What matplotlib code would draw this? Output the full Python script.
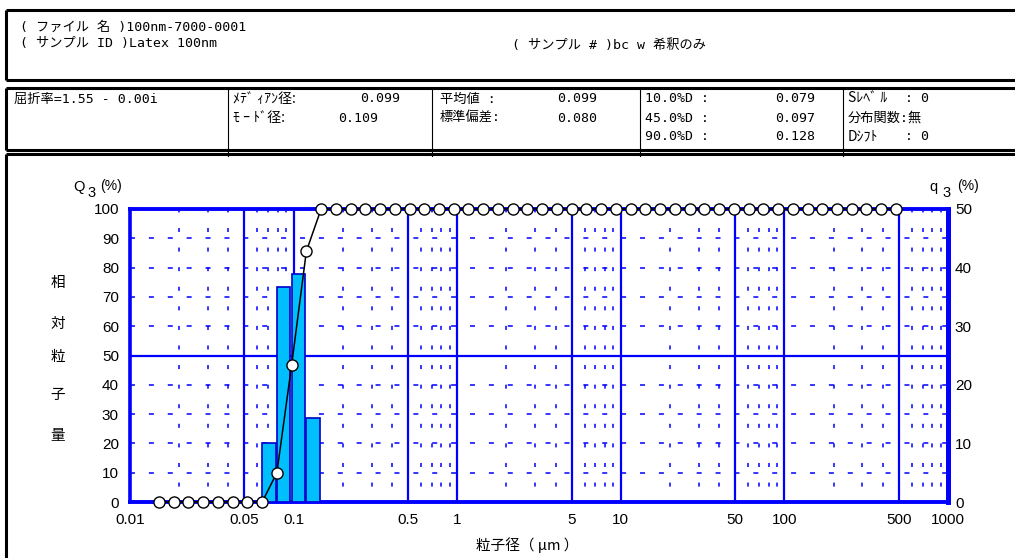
import matplotlib
matplotlib.use('Agg')
import matplotlib.pyplot as plt

plt.rcParams['lines.scale_dashes'] = False
JP = ['Noto Sans CJK JP', 'DejaVu Sans']
HD = ['DejaVu Sans Mono', 'Noto Sans CJK JP']
NUM = ['Liberation Sans', 'DejaVu Sans']

# particle size channels (um), undersize boundaries
sizes = [0.01503, 0.01850, 0.02276, 0.02802, 0.03447, 0.04242, 0.05220, 0.06423,
         0.07904, 0.09725, 0.1197, 0.1473, 0.1813, 0.2230, 0.2745, 0.3377,
         0.4156, 0.5113, 0.6292, 0.7742, 0.9528, 1.172, 1.443, 1.775,
         2.184, 2.688, 3.307, 4.070, 5.008, 6.163, 7.586, 9.334,
         11.49, 14.14, 17.39, 21.41, 26.34, 32.41, 39.89, 49.09,
         60.39, 74.32, 91.47, 112.5, 138.5, 170.4, 209.7, 258.0,
         317.5, 390.7, 480.8]
# cumulative undersize Q3 (%)
Q3 = [0, 0, 0, 0, 0, 0, 0, 0, 10.0, 46.7, 85.6] + [100.0] * 40
# frequency q3 (%) per channel
q3 = [0, 0, 0, 0, 0, 0, 0, 10.0, 36.7, 38.9, 14.4] + [0] * 39

x_major = [0.05, 0.1, 0.5, 1, 5, 10, 50, 100, 500]
x_minor = [m * d for d in [0.01, 0.1, 1, 10, 100] for m in [2, 3, 4, 6, 7, 8, 9]]
x_ticks = [0.01, 0.05, 0.1, 0.5, 1, 5, 10, 50, 100, 500, 1000]
x_ticklabels = ['0.01', '0.05', '0.1', '0.5', '1', '5', '10', '50', '100', '500', '1000']

W, H = 1015, 558
fig = plt.figure(figsize=(W / 100, H / 100), dpi=100)

# ---- frame boxes and header text (pixel coordinates)
ov = fig.add_axes([0, 0, 1, 1])
ov.set_xlim(0, W)
ov.set_ylim(H, 0)
ov.axis('off')
blk = dict(color='black', lw=2.2, solid_capstyle='butt')
ov.plot([6, 1020], [10, 10], **blk)
ov.plot([6, 6], [10, 80], **blk)
ov.plot([6, 1020], [80, 80], **blk)
ov.plot([6, 1020], [88, 88], **blk)
ov.plot([6, 6], [88, 150], **blk)
ov.plot([6, 1020], [150, 150], **blk)
ov.plot([6, 1020], [154, 154], **blk)
ov.plot([6, 6], [154, 560], **blk)
for xd in [228, 432, 640, 843]:
    ov.plot([xd, xd], [88, 156], color='black', lw=0.8)

fs = 9.5
ov.text(20, 27, '( ファイル 名 )100nm-7000-0001', family=HD, fontsize=fs, va='center')
ov.text(20, 44, '( サンプル ID )Latex 100nm', family=HD, fontsize=fs, va='center')
ov.text(512, 46, '( サンプル # )bc w 希釈のみ', family=HD, fontsize=fs, va='center')

ov.text(14, 99, '屈折率=1.55 - 0.00i', family=HD, fontsize=fs, va='center')
ov.text(233, 99, 'ﾒﾃﾞ ｨｱﾝ径:', family=JP, fontsize=10, va='center')
ov.text(400, 99, '0.099', family=HD, fontsize=fs, va='center', ha='right')
ov.text(233, 118, 'ﾓ ｰ ﾄﾞ径:', family=JP, fontsize=10, va='center')
ov.text(378, 118, '0.109', family=HD, fontsize=fs, va='center', ha='right')
ov.text(440, 99, '平均値 :', family=HD, fontsize=fs, va='center')
ov.text(597, 99, '0.099', family=HD, fontsize=fs, va='center', ha='right')
ov.text(440, 118, '標準偏差:', family=HD, fontsize=fs, va='center')
ov.text(597, 118, '0.080', family=HD, fontsize=fs, va='center', ha='right')
ov.text(645, 99, '10.0%D :', family=HD, fontsize=fs, va='center')
ov.text(815, 99, '0.079', family=HD, fontsize=fs, va='center', ha='right')
ov.text(645, 118, '45.0%D :', family=HD, fontsize=fs, va='center')
ov.text(815, 118, '0.097', family=HD, fontsize=fs, va='center', ha='right')
ov.text(645, 136, '90.0%D :', family=HD, fontsize=fs, va='center')
ov.text(815, 136, '0.128', family=HD, fontsize=fs, va='center', ha='right')
ov.text(848, 99, 'Sﾚﾍﾞ ﾙ', family=JP, fontsize=10, va='center')
ov.text(905, 99, ': 0', family=HD, fontsize=fs, va='center')
ov.text(848, 118, '分布関数:無', family=HD, fontsize=fs, va='center')
ov.text(848, 136, 'Dｼﾌﾄ', family=JP, fontsize=10, va='center')
ov.text(905, 136, ': 0', family=HD, fontsize=fs, va='center')

# axis titles
ov.text(73, 187, 'Q', family=NUM, fontsize=10.5, va='center')
ov.text(87, 193, '3', family=NUM, fontsize=10.5, va='center')
ov.text(100, 186, '(%)', family=NUM, fontsize=10, va='center')
ov.text(929, 187, 'q', family=NUM, fontsize=10.5, va='center')
ov.text(942, 193, '3', family=NUM, fontsize=10.5, va='center')
ov.text(957, 186, '(%)', family=NUM, fontsize=10, va='center')
for ch, yy in zip('相対粒子量', [283, 324, 357, 395, 436]):
    ov.text(58, yy, ch, family=JP, fontsize=10.5, va='center', ha='center')
ov.text(527, 545, '粒子径（ μm ）', family=JP, fontsize=10.5, va='center', ha='center')

# ---- main chart
BLUE = '#0000ff'
ax = fig.add_axes([130 / W, 1 - 502 / H, (948 - 130) / W, (502 - 209) / H])
ax.set_facecolor('none')
ax.set_xscale('log')
ax.set_xlim(0.01, 1000)
ax.set_ylim(0, 100)

for xv in x_minor:
    ax.axvline(xv, color=BLUE, lw=1.1, linestyle=(3, (2.9, 11.2)), zorder=1)
for yv in [10, 20, 30, 40, 60, 70, 80, 90]:
    ax.axhline(yv, color=BLUE, lw=1.1, linestyle=(0, (3.6, 10)), zorder=1)
for xv in x_major:
    ax.axvline(xv, color=BLUE, lw=1.6, zorder=1)
ax.axhline(50, color=BLUE, lw=1.6, zorder=1)

ax2 = ax.twinx()
ax2.set_ylim(0, 50)
ax2.set_xlim(0.01, 1000)
for i, v in enumerate(q3):
    if v > 0:
        left = sizes[i]
        right = sizes[i + 1] / 1.018
        ax2.bar(left, v, width=right - left, align='edge', color='#00bfff',
                edgecolor='#0000cc', lw=1.2, zorder=2)

ax3 = ax.twinx()
ax3.set_ylim(0, 100)
ax3.axis('off')
ax3.plot(sizes, Q3, '-', color='black', lw=1.1, marker='o', ms=8,
         mfc='white', mec='black', mew=1.0, clip_on=False, zorder=5)

for a in (ax, ax2):
    for s in a.spines.values():
        s.set_color(BLUE)
ax.spines['left'].set_linewidth(2.6)
ax.spines['top'].set_linewidth(2.8)
ax.spines['bottom'].set_linewidth(2.8)
ax.spines['right'].set_linewidth(3.5)
ax2.spines['right'].set_linewidth(3.5)
ax2.spines['left'].set_visible(False)
ax2.spines['top'].set_visible(False)
ax2.spines['bottom'].set_visible(False)

ax.set_xticks(x_ticks)
ax.set_xticklabels(x_ticklabels)
ax.minorticks_off()
ax.set_yticks(range(0, 101, 10))
ax2.set_yticks(range(0, 51, 10))
ax.tick_params(length=0, labelsize=11, pad=8)
ax.tick_params(axis='x', pad=8)
ax2.tick_params(length=0, labelsize=11, pad=5)
for lab in ax.get_xticklabels() + ax.get_yticklabels() + ax2.get_yticklabels():
    lab.set_family(NUM)

fig.savefig('out.png', dpi=100)
